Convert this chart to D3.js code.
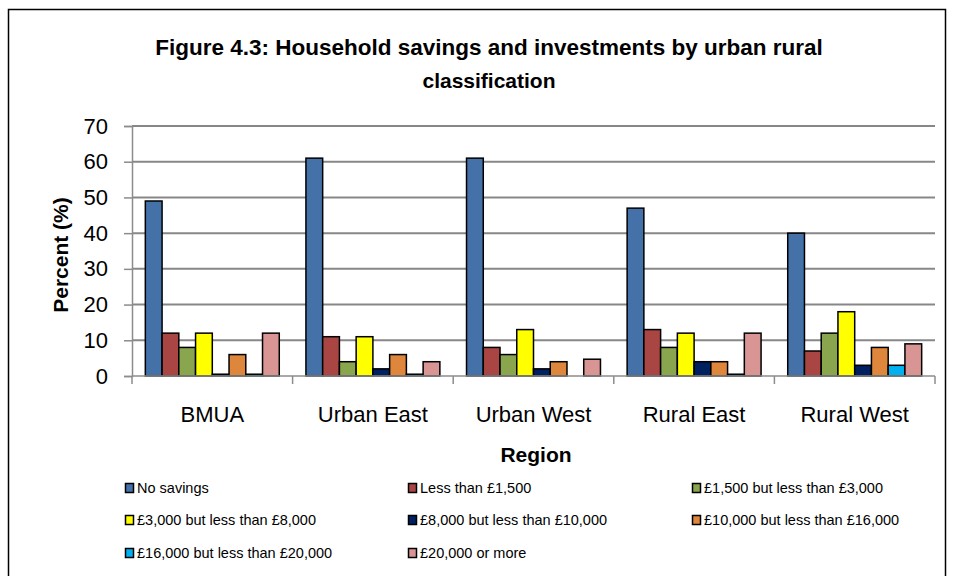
<!DOCTYPE html>
<html><head><meta charset="utf-8">
<script src="https://cdn.jsdelivr.net/npm/d3@7"></script>
<style>body{margin:0;background:#fff;} svg{display:block;}</style>
</head><body>
<svg id="c" width="954" height="576"></svg>
<script>
const regions = ["BMUA", "Urban East", "Urban West", "Rural East", "Rural West"];
const seriesNames = ["No savings", "Less than £1,500", "£1,500 but less than £3,000",
  "£3,000 but less than £8,000", "£8,000 but less than £10,000", "£10,000 but less than £16,000",
  "£16,000 but less than £20,000", "£20,000 or more"];
const noSavings   = [49, 61, 61, 47, 40];
const lt1500      = [12, 11, 8, 13, 7];
const r1500_3000  = [8, 4, 6, 8, 12];
const r3000_8000  = [12, 11, 13, 12, 18];
const r8000_10000 = [0.5, 2, 2, 4, 3];
const r10000_16000= [6, 6, 4, 4, 8];
const r16000_20000= [0.5, 0.5, 0, 0.5, 3];
const r20000plus  = [12, 4, 4.7, 12, 9];
const yTicks = [0, 10, 20, 30, 40, 50, 60, 70];
const colors = ["#4471A8", "#A94543", "#89A54E", "#FFFF00", "#002060", "#DF863D", "#00B0F0", "#D99594"];

const seriesValues = [noSavings, lt1500, r1500_3000, r3000_8000, r8000_10000, r10000_16000, r16000_20000, r20000plus];

(function () {
const svg = d3.select("#c");
svg.append("rect").attr("x", 8.5).attr("y", 9.5).attr("width", 937).attr("height", 600)
  .attr("fill", "#fff").attr("stroke", "#000").attr("stroke-width", 1.5);

const pL = 132, pR = 935, pT = 126, pB = 376;
const x0 = d3.scaleBand().domain(regions).range([pL, pR]).padding(0);
const step = x0.bandwidth();
const x1 = d3.scaleBand().domain(d3.range(seriesNames.length)).range([step * 0.083, step * 0.917]).padding(0);
const y = d3.scaleLinear().domain([0, 70]).range([pB, pT]);

const font = "'Liberation Sans', Arial, sans-serif";

// gridlines
svg.append("g").selectAll("line").data(yTicks.filter(d => d > 0)).join("line")
  .attr("x1", pL).attr("x2", pR).attr("y1", d => y(d)).attr("y2", d => y(d))
  .attr("stroke", "#878787").attr("stroke-width", 2);

// y axis
const yAxis = svg.append("g").attr("transform", `translate(${pL},0)`)
  .call(d3.axisLeft(y).tickValues(yTicks).tickSize(8).tickPadding(16));
yAxis.select(".domain").attr("stroke", "#8c8c8c").attr("stroke-width", 1.5);
yAxis.selectAll(".tick line").attr("stroke", "#8c8c8c").attr("stroke-width", 1.5);
yAxis.selectAll(".tick text").attr("font-family", font).attr("font-size", 22).attr("fill", "#000");

// bars
const data = [];
regions.forEach((r, i) => seriesValues.forEach((s, j) => data.push({r, j, v: s[i]})));
svg.append("g").selectAll("rect").data(data).join("rect")
  .attr("x", d => x0(d.r) + x1(d.j))
  .attr("width", x1.bandwidth())
  .attr("y", d => y(d.v))
  .attr("height", d => y(0) - y(d.v))
  .attr("fill", d => colors[d.j])
  .attr("stroke", d => d.v > 0 ? "#000" : "none")
  .attr("stroke-width", 1.5);

// x axis
svg.append("line").attr("x1", pL).attr("x2", pR).attr("y1", pB).attr("y2", pB)
  .attr("stroke", "#8c8c8c").attr("stroke-width", 1.5);
const boundaries = regions.map(r => x0(r)).concat([pR]);
svg.append("g").selectAll("line").data(boundaries).join("line")
  .attr("x1", d => d).attr("x2", d => d).attr("y1", pB).attr("y2", pB + 8)
  .attr("stroke", "#8c8c8c").attr("stroke-width", 1.5);
svg.append("g").selectAll("text").data(regions).join("text")
  .attr("x", d => x0(d) + step / 2).attr("y", 422)
  .attr("text-anchor", "middle").attr("font-family", font).attr("font-size", 22).text(d => d);

// axis titles
svg.append("text").attr("transform", "translate(60,255) rotate(-90)")
  .attr("text-anchor", "middle").attr("dominant-baseline", "central")
  .attr("font-family", font).attr("font-weight", "bold").attr("font-size", 21).text("Percent (%)");
svg.append("text").attr("x", 536).attr("y", 462).attr("text-anchor", "middle")
  .attr("font-family", font).attr("font-weight", "bold").attr("font-size", 21).text("Region");

// title
svg.append("text").attr("x", 489).attr("y", 55).attr("text-anchor", "middle")
  .attr("font-family", font).attr("font-weight", "bold").attr("font-size", 22.5)
  .text("Figure 4.3: Household savings and investments by urban rural");
svg.append("text").attr("x", 489).attr("y", 88).attr("text-anchor", "middle")
  .attr("font-family", font).attr("font-weight", "bold").attr("font-size", 21)
  .text("classification");

// legend
const colX = [125, 408, 692];
const rowY = [488, 520, 553];
const lg = svg.append("g").selectAll("g").data(seriesNames).join("g")
  .attr("transform", (d, i) => `translate(${colX[i % 3]},${rowY[Math.floor(i / 3)]})`);
lg.append("rect").attr("x", 0.5).attr("y", -4.5).attr("width", 8).attr("height", 9)
  .attr("fill", (d, i) => colors[i]).attr("stroke", "#000").attr("stroke-width", 1.5);
lg.append("text").attr("x", 12).attr("y", 0).attr("dominant-baseline", "central")
  .attr("font-family", font).attr("font-size", 14.5).text(d => d);
})();
</script>
</body></html>
